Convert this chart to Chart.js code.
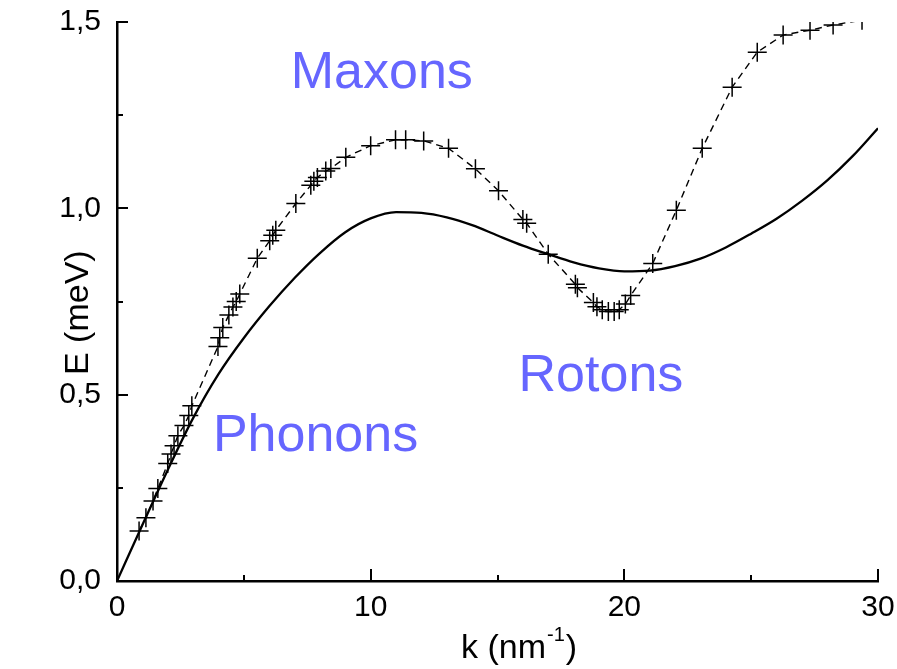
<!DOCTYPE html>
<html>
<head>
<meta charset="utf-8">
<title>Dispersion curve</title>
<script src="https://cdn.jsdelivr.net/npm/chart.js@4.4.1/dist/chart.umd.min.js"></script>
<style>
  html, body { margin: 0; padding: 0; background: #fff; }
  canvas { display: block; }
</style>
</head>
<body>
<canvas id="chart" width="897" height="669"></canvas>
<script>
// theoretical curve (solid)
const kTheory = [0, 1, 2, 3, 4, 5, 6, 7, 8, 9, 10, 11, 12, 13, 14, 15,
  16, 17, 18, 19, 20, 21, 22, 23, 24, 25, 26, 27, 28, 29, 30];
const eTheory = [0, 0.15, 0.298, 0.437, 0.555, 0.652, 0.737, 0.813, 0.88, 0.936, 0.973,
  0.99, 0.988, 0.976, 0.955, 0.927, 0.9, 0.877, 0.855, 0.839, 0.831,
  0.833, 0.845, 0.865, 0.895, 0.932, 0.972, 1.02, 1.075, 1.14, 1.215];

// measured points (crosses, dashed)
const kExp = [0.87, 1.14, 1.42, 1.61, 2.0, 2.13, 2.25, 2.4, 2.64, 2.83, 2.95,
  3.98, 4.05, 4.17, 4.41, 4.57, 4.7, 4.84, 5.53, 6.02, 6.14, 6.26,
  7.05, 7.64, 7.76, 7.9, 8.23, 8.43, 9.02, 10.0, 10.98, 11.38, 12.09,
  13.07, 14.13, 15.04, 16.0, 16.15, 17.0, 18.07, 18.15, 18.78, 18.92,
  19.13, 19.37, 19.6, 19.8, 20.04, 20.25, 21.12, 22.05, 23.07, 24.25,
  25.24, 26.26, 27.32, 28.23, 29.37];
const eExp = [0.134, 0.17, 0.215, 0.248, 0.315, 0.341, 0.363, 0.39, 0.417, 0.444, 0.47,
  0.629, 0.653, 0.68, 0.714, 0.735, 0.75, 0.77, 0.866, 0.913, 0.928, 0.941,
  1.013, 1.062, 1.073, 1.083, 1.1, 1.107, 1.137, 1.168, 1.184, 1.184, 1.181,
  1.161, 1.106, 1.047, 0.97, 0.96, 0.877, 0.796, 0.787, 0.747, 0.736,
  0.728, 0.723, 0.723, 0.728, 0.743, 0.766, 0.852, 0.995, 1.161, 1.325,
  1.419, 1.465, 1.478, 1.492, 1.505];

const xTickLabels = { 0: "0", 10: "10", 20: "20", 30: "30" };
const yTickLabels = { 0: "0,0", 0.5: "0,5", 1: "1,0", 1.5: "1,5" };

const FONT = "Arial, 'Liberation Sans', Helvetica, sans-serif";
const LABEL_BLUE = "#6666ff";

Chart.defaults.font.family = FONT;
Chart.defaults.font.size = 30;
Chart.defaults.color = "#000";

const pts = (xs, ys) => xs.map((x, i) => ({ x, y: ys[i] }));

/* ticks drawn inward from the axis lines */
const innerTicks = {
  id: "innerTicks",
  afterDraw(chart) {
    const { ctx, scales: { x, y } } = chart;
    ctx.save();
    ctx.strokeStyle = "#000";
    ctx.lineWidth = 2;
    for (const t of x.ticks) {
      const px = Math.round(x.getPixelForValue(t.value));
      const len = t.value % 10 === 0 ? 12 : 6;
      ctx.beginPath(); ctx.moveTo(px, x.top); ctx.lineTo(px, x.top - len); ctx.stroke();
    }
    for (const t of y.ticks) {
      const py = Math.round(y.getPixelForValue(t.value));
      const len = Math.abs(t.value * 2 - Math.round(t.value * 2)) < 1e-6 ? 11 : 6;
      ctx.beginPath(); ctx.moveTo(y.right, py); ctx.lineTo(y.right + len, py); ctx.stroke();
    }
    ctx.restore();
  },
};

/* region names + axis titles */
const regions = [
  { text: "Maxons", k: 6.85, e: 1.323 },
  { text: "Phonons", k: 3.78, e: 0.349 },
  { text: "Rotons", k: 15.83, e: 0.511 },
];

const textLayer = {
  id: "textLayer",
  afterDraw(chart) {
    const { ctx, chartArea, scales: { x, y } } = chart;
    ctx.save();
    ctx.fillStyle = LABEL_BLUE;
    ctx.font = `52px ${FONT}`;
    ctx.textAlign = "left";
    ctx.textBaseline = "alphabetic";
    for (const r of regions) ctx.fillText(r.text, x.getPixelForValue(r.k), y.getPixelForValue(r.e));

    ctx.fillStyle = "#000";
    // y title
    ctx.save();
    ctx.translate(chartArea.left - 29, y.getPixelForValue(0.72));
    ctx.rotate(-Math.PI / 2);
    ctx.textAlign = "center";
    ctx.font = `34px ${FONT}`;
    ctx.fillText("E (meV)", 0, 0);
    ctx.restore();

    // x title with superscript
    const base = chartArea.bottom + 77;
    const main = "k (nm", sup = "-1", close = ")";
    ctx.font = `34px ${FONT}`;
    const wMain = ctx.measureText(main).width, wClose = ctx.measureText(close).width;
    ctx.font = `20px ${FONT}`;
    const wSup = ctx.measureText(sup).width;
    let cx = x.getPixelForValue(15.85) - (wMain + wSup + wClose + 2) / 2;
    ctx.textAlign = "left";
    ctx.font = `34px ${FONT}`;
    ctx.fillText(main, cx, base); cx += wMain + 1;
    ctx.font = `20px ${FONT}`;
    ctx.fillText(sup, cx, base - 17); cx += wSup + 1;
    ctx.font = `34px ${FONT}`;
    ctx.fillText(close, cx, base);
    ctx.restore();
  },
};

new Chart(document.getElementById("chart").getContext("2d"), {
  type: "scatter",
  data: {
    datasets: [
      {
        label: "measured", data: pts(kExp, eExp), showLine: true,
        borderColor: "#000", borderWidth: 1.4, borderDash: [7, 5], tension: 0,
        pointStyle: "cross", pointRadius: 9.5, pointBorderWidth: 1.5,
        pointBorderColor: "#000", pointBackgroundColor: "#000", order: 1,
      },
      {
        label: "theory", data: pts(kTheory, eTheory), showLine: true,
        borderColor: "#000", borderWidth: 2.3, pointRadius: 0,
        cubicInterpolationMode: "monotone", order: 2,
      },
    ],
  },
  options: {
    responsive: false, animation: false,
    layout: { padding: { top: 22, right: 19, left: 0, bottom: 0 } },
    plugins: { legend: { display: false }, tooltip: { enabled: false } },
    scales: {
      x: {
        type: "linear", min: 0, max: 30,
        grid: { display: false, drawTicks: false },
        border: { display: true, color: "#000", width: 2.5 },
        ticks: {
          stepSize: 5, autoSkip: false, maxRotation: 0, padding: 9,
          color: "#000", font: { family: FONT, size: 30 },
          callback: (v) => xTickLabels[v] ?? "",
        },
        afterFit: (s) => { s.height = 88; s.paddingLeft = 0; s.paddingRight = 0; },
      },
      y: {
        type: "linear", min: 0, max: 1.5,
        grid: { display: false, drawTicks: false },
        border: { display: true, color: "#000", width: 2.5 },
        ticks: {
          stepSize: 0.25, autoSkip: false, padding: 16,
          color: "#000", font: { family: FONT, size: 30 },
          callback: (v) => yTickLabels[Math.round(v * 100) / 100] ?? "",
        },
        afterFit: (s) => { s.width = 117; s.paddingTop = 0; s.paddingBottom = 0; },
      },
    },
  },
  plugins: [innerTicks, textLayer],
});
</script>
</body>
</html>
